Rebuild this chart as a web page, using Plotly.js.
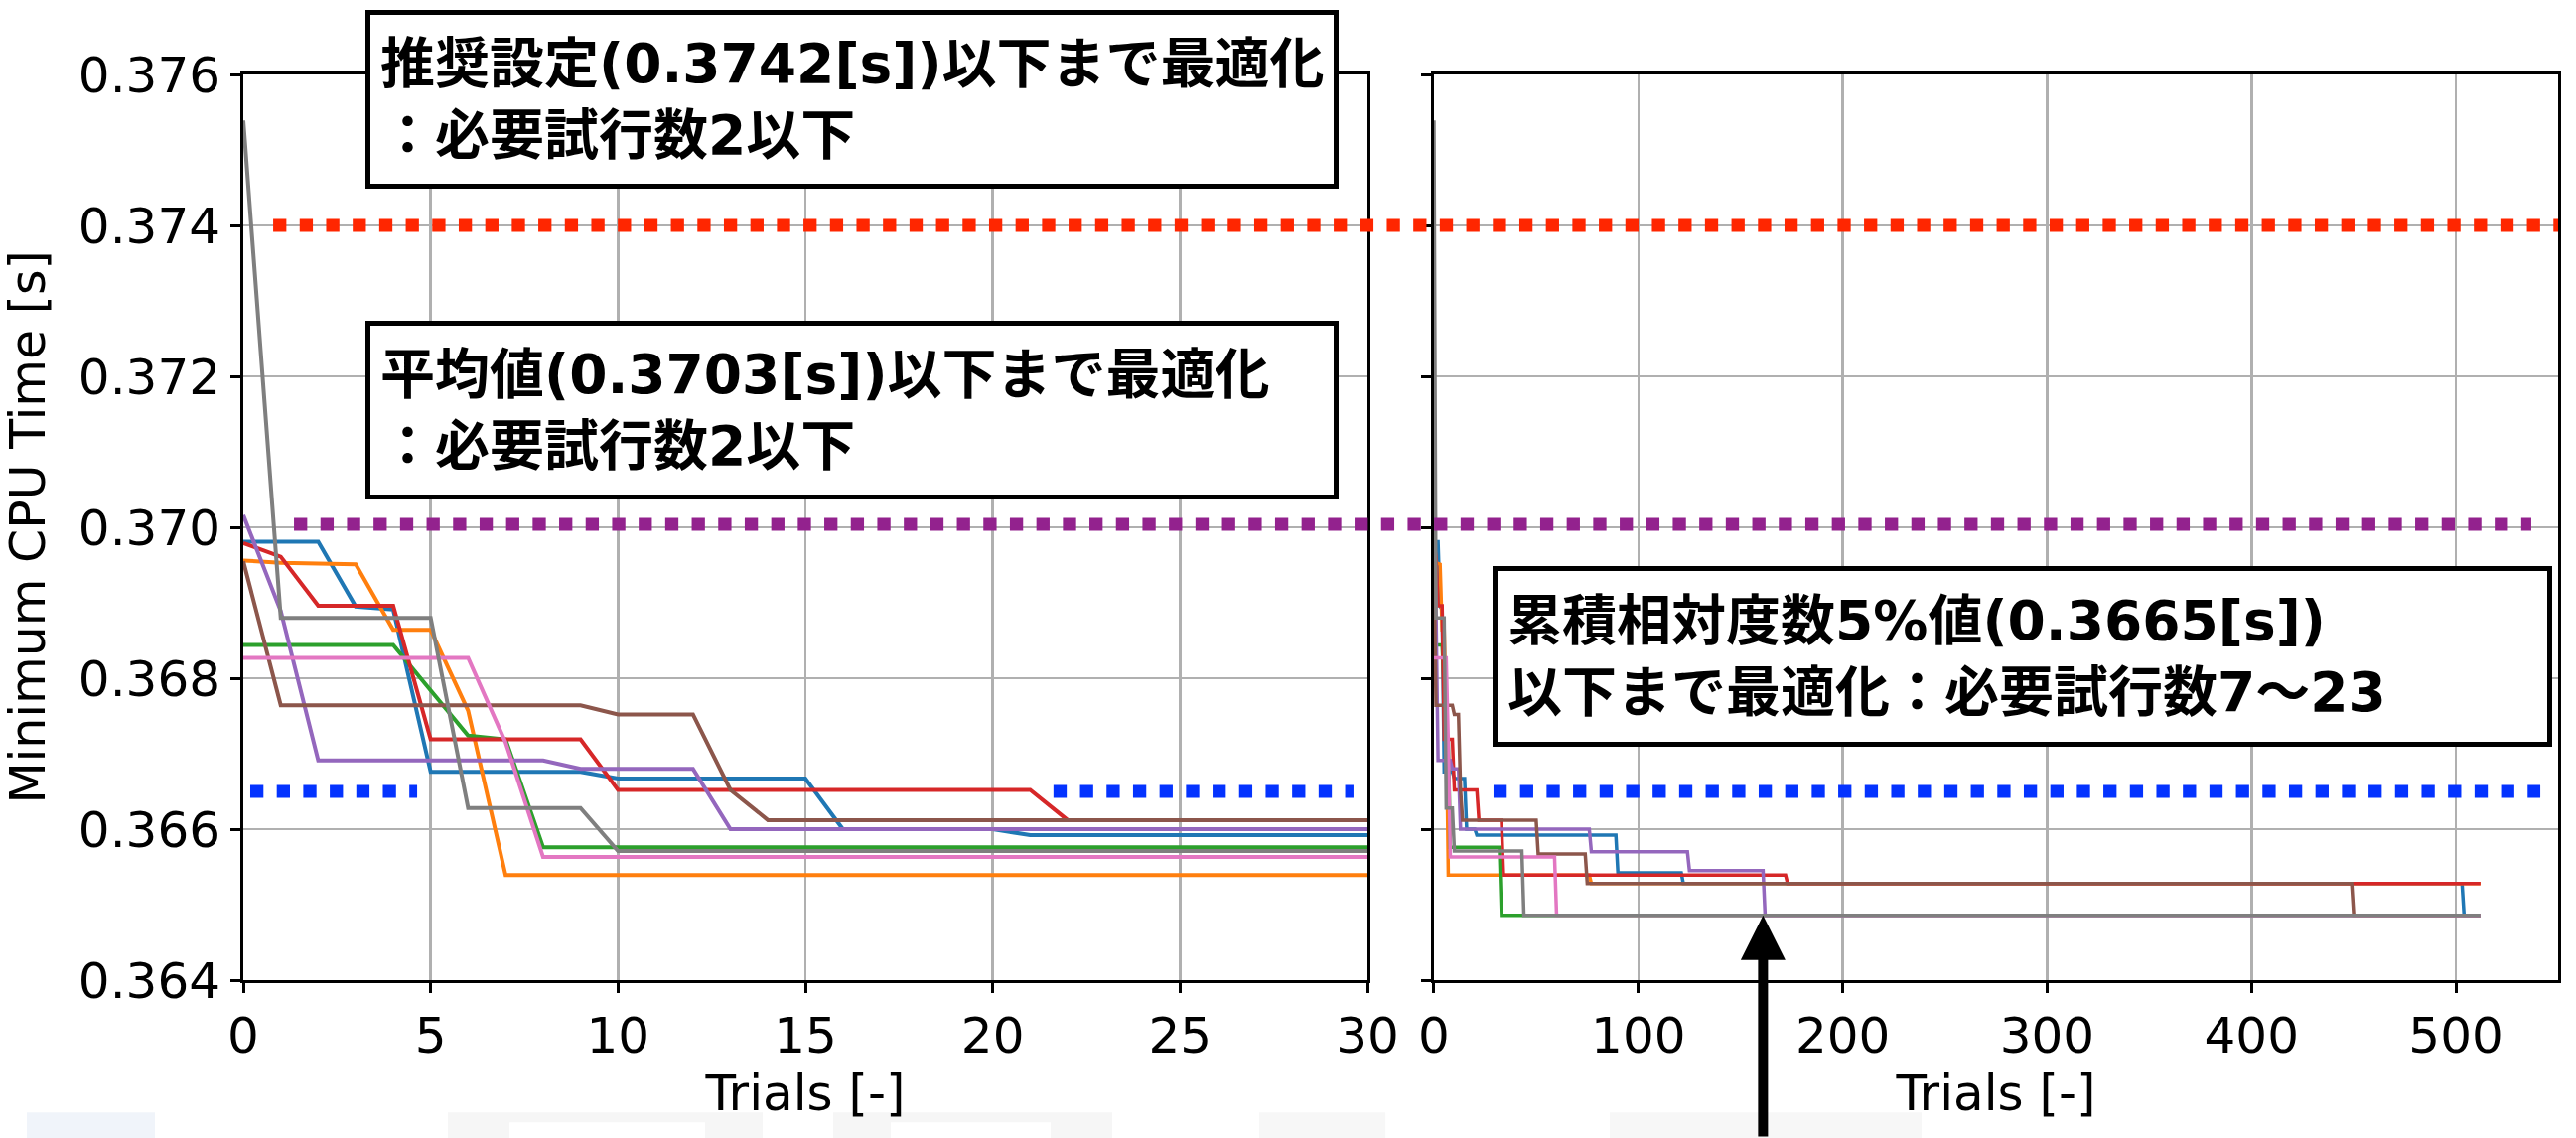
<!DOCTYPE html>
<html><head><meta charset="utf-8">
<script src="https://cdn.plot.ly/plotly-3.0.1.min.js"></script>
<style>html,body{margin:0;padding:0;background:#fff;} #chart{width:2594px;height:1146px;}</style>
</head><body><div id="chart"></div>
<script>
// ---- Data: vertices (trial, best CPU time so far [s]) of each optimisation run ----
const blueTrials   = [0, 2, 3, 4, 5, 9, 10, 15, 16, 20, 21, 89, 90, 121, 122, 503, 504, 512];
const blueValues   = [0.36981, 0.36981, 0.36895, 0.36891, 0.36676, 0.36676, 0.36667, 0.36667, 0.36600, 0.36600, 0.36592, 0.36592, 0.36542, 0.36542, 0.36528, 0.36528, 0.36486, 0.36486];
const orangeTrials = [0, 1, 2, 3, 4, 5, 6, 7, 76, 77, 512];
const orangeValues = [0.36956, 0.36953, 0.36952, 0.36951, 0.36864, 0.36864, 0.36757, 0.36539, 0.36539, 0.36528, 0.36528];
const greenTrials  = [0, 4, 5, 6, 7, 8, 32, 33, 512];
const greenValues  = [0.36844, 0.36844, 0.36784, 0.36724, 0.36719, 0.36576, 0.36576, 0.36486, 0.36486];
const redTrials    = [0, 1, 2, 4, 5, 9, 10, 21, 22, 33, 34, 172, 173, 512];
const redValues    = [0.36979, 0.36961, 0.36896, 0.36896, 0.36719, 0.36719, 0.36652, 0.36652, 0.36612, 0.36612, 0.36539, 0.36539, 0.36528, 0.36528];
const purpleTrials = [0, 1, 2, 8, 9, 12, 13, 76, 77, 124, 125, 161, 162, 512];
const purpleValues = [0.37016, 0.36889, 0.36691, 0.36691, 0.36680, 0.36680, 0.36600, 0.36600, 0.36570, 0.36570, 0.36545, 0.36545, 0.36486, 0.36486];
const brownTrials  = [0, 1, 9, 10, 12, 13, 14, 50, 51, 74, 75, 449, 450, 512];
const brownValues  = [0.36955, 0.36764, 0.36764, 0.36752, 0.36752, 0.36652, 0.36612, 0.36612, 0.36567, 0.36567, 0.36528, 0.36528, 0.36486, 0.36486];
const pinkTrials   = [0, 6, 7, 8, 59, 60, 512];
const pinkValues   = [0.36827, 0.36827, 0.36715, 0.36563, 0.36563, 0.36486, 0.36486];
const grayTrials   = [0, 1, 5, 6, 9, 10, 43, 44, 512];
const grayValues   = [0.37539, 0.36880, 0.36880, 0.36628, 0.36628, 0.36571, 0.36571, 0.36486, 0.36486];

// reference levels [s]: recommended setting, mean, cumulative 5% value
const thresholdValues = [0.374, 0.37004, 0.3665];
const thresholdColors = ['#ff2600', '#93228e', '#0433ff'];

const yTickValues = [0.364, 0.366, 0.368, 0.370, 0.372, 0.374, 0.376];
const leftXTicks  = [0, 5, 10, 15, 20, 25, 30];
const rightXTicks = [0, 100, 200, 300, 400, 500];

const boxTexts = [
  '推奨設定(0.3742[s])以下まで最適化<br>：必要試行数2以下',
  '平均値(0.3703[s])以下まで最適化<br>：必要試行数2以下',
  '累積相対度数5%値(0.3665[s])<br>以下まで最適化：必要試行数7～23'
];
const arrowTrial = 161, arrowValue = 0.36486;
const xTitle = 'Trials [-]';
const yTitle = 'Minimum CPU Time [s]';

// ---- Build ----
const series = [
  [blueTrials, blueValues, '#1f77b4'],
  [orangeTrials, orangeValues, '#ff7f0e'],
  [greenTrials, greenValues, '#2ca02c'],
  [redTrials, redValues, '#d62728'],
  [purpleTrials, purpleValues, '#9467bd'],
  [brownTrials, brownValues, '#8c564b'],
  [pinkTrials, pinkValues, '#e377c2'],
  [grayTrials, grayValues, '#7f7f7f']
];
const traces = [];
series.forEach(s => traces.push({x: s[0], y: s[1], xaxis: 'x', yaxis: 'y', mode: 'lines',
  line: {color: s[2], width: 4}, showlegend: false, hoverinfo: 'skip'}));
series.forEach(s => traces.push({x: s[0], y: s[1], xaxis: 'x2', yaxis: 'y2', mode: 'lines',
  line: {color: s[2], width: 3.5}, showlegend: false, hoverinfo: 'skip'}));

const tickFont = {family: 'DejaVu Sans', size: 50, color: '#000'};
const titleFont = {family: 'DejaVu Sans', size: 50, color: '#000'};
const yTitleFont = {family: 'DejaVu Sans', size: 49, color: '#000'};
const baseAxis = {
  showline: true, linecolor: '#000', linewidth: 3, mirror: true,
  ticks: 'outside', ticklen: 10, tickwidth: 3, tickcolor: '#000',
  showgrid: true, gridcolor: '#b0b0b0', gridwidth: 2.5, zeroline: false,
  tickfont: tickFont
};
const yRange = [yTickValues[0], yTickValues[yTickValues.length - 1]];

const dotted = (i, x0, x1) => ({type: 'line', xref: 'paper', yref: 'y', x0: x0, x1: x1,
  y0: thresholdValues[i], y1: thresholdValues[i], layer: 'above',
  line: {color: thresholdColors[i], width: 13, dash: '13.3px,13.4px'}});

// faint background watermark blocks below the axes
const wm = (x0, x1, y0, y1, c) => ({type: 'rect', xref: 'paper', yref: 'paper', x0: x0, x1: x1, y0: y0, y1: y1,
  layer: 'below', line: {width: 0}, fillcolor: c});

const boxStyle = {xref: 'paper', yref: 'paper', xanchor: 'left', yanchor: 'top', showarrow: false,
  align: 'left', valign: 'middle', bgcolor: '#ffffff', bordercolor: '#000', borderwidth: 5, borderpad: 10,
  font: {family: 'DejaVu Sans, Noto Sans CJK JP', size: 55, color: '#000', weight: 'bold'}};

const layout = {
  width: 2594, height: 1146,
  margin: {l: 245, r: 18, t: 75, b: 159},
  paper_bgcolor: '#ffffff', plot_bgcolor: '#ffffff',
  xaxis: Object.assign({}, baseAxis, {domain: [0, 0.48563], range: [leftXTicks[0], leftXTicks[leftXTicks.length - 1]],
    tickvals: leftXTicks, title: {text: xTitle, font: titleFont, standoff: 12}}),
  xaxis2: Object.assign({}, baseAxis, {domain: [0.51437, 1], range: [0, 550], anchor: 'y2',
    tickvals: rightXTicks, title: {text: xTitle, font: titleFont, standoff: 12}}),
  yaxis: Object.assign({}, baseAxis, {range: yRange, tickvals: yTickValues, tickformat: '.3f',
    ticklabelstandoff: 0, title: {text: yTitle, font: yTitleFont, standoff: 20}}),
  yaxis2: Object.assign({}, baseAxis, {range: yRange, tickvals: yTickValues, anchor: 'x2',
    showticklabels: false}),
  shapes: [
    wm(-0.0935, -0.0382, -0.146, -0.175, '#f0f4fa'),
    wm(0.0884, 0.2244, -0.146, -0.175, '#f6f6f6'),
    wm(0.1150, 0.1995, -0.157, -0.175, '#ffffff'),
    wm(0.2548, 0.3754, -0.146, -0.175, '#f6f6f6'),
    wm(0.2797, 0.3488, -0.157, -0.175, '#ffffff'),
    wm(0.4389, 0.4934, -0.146, -0.175, '#f7f7f7'),
    wm(0.5903, 0.7250, -0.146, -0.175, '#f7f7f7'),
    dotted(0, 0.0129, 1.0),
    dotted(1, 0.0219, 0.9884),
    dotted(2, 0.0030, 0.0751),
    dotted(2, 0.3500, 0.4796),
    dotted(2, 0.5401, 0.9923)
  ],
  annotations: [
    Object.assign({}, boxStyle, {text: boxTexts[0], x: 0.05277, y: 1.07127, width: 950, height: 150}),
    Object.assign({}, boxStyle, {text: boxTexts[1], x: 0.05277, y: 0.72807, width: 950, height: 150}),
    Object.assign({}, boxStyle, {text: boxTexts[2], x: 0.53968, y: 0.45724, width: 1037, height: 152}),
    {xref: 'x2', yref: 'y2', x: arrowTrial, y: arrowValue, text: '', showarrow: true,
     ax: 0, ay: 240, arrowhead: 2, arrowsize: 0.9, arrowwidth: 10, arrowcolor: '#000', standoff: 0}
  ]
};

Plotly.newPlot('chart', traces, layout, {staticPlot: true, displayModeBar: false});
</script>
</body></html>
